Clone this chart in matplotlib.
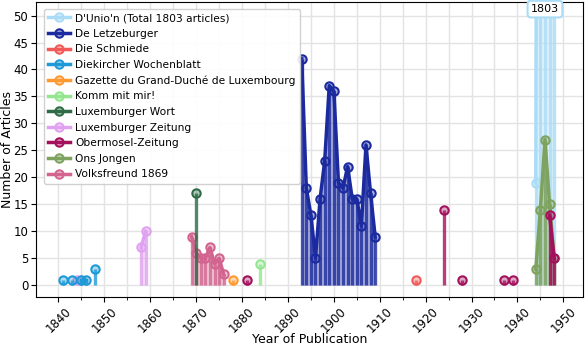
import matplotlib
matplotlib.use("Agg")
import matplotlib.pyplot as plt
from matplotlib.colors import to_rgba
from matplotlib.ticker import MultipleLocator

# ---- data ----
dunion_years = [1944, 1945, 1946, 1947, 1948]
dunion_counts = [19, 420, 820, 480, 64]

letz_years = list(range(1893, 1910))
letz_counts = [42, 18, 13, 5, 16, 23, 37, 36, 19, 18, 22, 16, 16, 11, 26, 17, 9]

schmiede_years = [1918]
schmiede_counts = [1]

diekirch_years = [1841, 1843, 1845, 1846, 1848]
diekirch_counts = [1, 1, 1, 1, 3]

gazette_years = [1878]
gazette_counts = [1]

komm_years = [1884]
komm_counts = [4]

wort_years = [1870]
wort_counts = [17]

lz_years = [1844, 1845, 1858, 1859]
lz_counts = [1, 1, 7, 10]

obermosel_years = [1881, 1924, 1928, 1937, 1939, 1947, 1948]
obermosel_counts = [1, 14, 1, 1, 1, 13, 5]

ons_years = [1944, 1945, 1946, 1947, 1948]
ons_counts = [3, 14, 27, 15, 5]

volks_years = [1869, 1870, 1871, 1872, 1873, 1874, 1875, 1876]
volks_counts = [9, 6, 5, 5, 7, 4, 5, 2]

names = ["D'Unio'n", "De Letzeburger", "Die Schmiede", "Diekircher Wochenblatt",
         "Gazette du Grand-Duché de Luxembourg", "Komm mit mir!", "Luxemburger Wort",
         "Luxemburger Zeitung", "Obermosel-Zeitung", "Ons Jongen", "Volksfreund 1869"]
series = [(dunion_years, dunion_counts), (letz_years, letz_counts),
          (schmiede_years, schmiede_counts), (diekirch_years, diekirch_counts),
          (gazette_years, gazette_counts), (komm_years, komm_counts),
          (wort_years, wort_counts), (lz_years, lz_counts),
          (obermosel_years, obermosel_counts), (ons_years, ons_counts),
          (volks_years, volks_counts)]
colors = ["#aadcf7", "#1b2a9e", "#f25a5a", "#1f9ad6", "#ff9a33", "#93e68f",
          "#2f6b47", "#e0a2f0", "#a3105c", "#7ea35f", "#d2648f"]

fig = plt.figure(figsize=(5.86, 3.48), dpi=100)
ax = fig.add_axes([0.0614, 0.1466, 0.9336, 0.8474])

totals = [sum(c) for _, c in series]
order = sorted(range(len(series)), key=lambda i: -totals[i])
zmap = {i: 3 + k for k, i in enumerate(order)}

handles = {}
for i, (name, (yrs, cnts), col) in enumerate(zip(names, series, colors)):
    z = zmap[i]
    ax.vlines(yrs, 0, cnts, colors=col, linewidth=2.4, alpha=0.8, zorder=z)
    # break lines where years are not consecutive
    segs = [[0]]
    for j in range(1, len(yrs)):
        if yrs[j] - yrs[j - 1] == 1:
            segs[-1].append(j)
        else:
            segs.append([j])
    line = None
    for s in segs:
        xs = [yrs[j] for j in s]
        ys = [cnts[j] for j in s]
        if len(s) > 1:
            ax.fill_between(xs, 0, ys, color=col, alpha=0.35, linewidth=0, zorder=z)
        line, = ax.plot(xs, ys, '-o', color=col, linewidth=2.5, markersize=6,
                        markerfacecolor=to_rgba(col, 0.35), markeredgecolor=col,
                        markeredgewidth=1.5, zorder=z + 0.5)
    handles[name] = line

label_map = {"D'Unio'n": "D'Unio'n (Total 1803 articles)"}
ax.legend([handles[n] for n in names], [label_map.get(n, n) for n in names],
          loc='upper left', fontsize=7.7, framealpha=0.9, borderpad=0.4,
          labelspacing=0.52, handlelength=2.0, handletextpad=0.5,
          bbox_to_anchor=(0.005, 0.995))

ax.set_xlim(1835.1, 1954.3)
ax.set_ylim(-2.2, 52.5)
ax.xaxis.set_major_locator(MultipleLocator(10))
ax.xaxis.set_minor_locator(MultipleLocator(5))
ax.yaxis.set_major_locator(MultipleLocator(5))
ax.tick_params(axis='both', which='major', labelsize=8.5, length=3.5, pad=2)
ax.tick_params(axis='x', which='minor', length=2.5)
ax.grid(True, which='both', color='#e3e3e3', linewidth=1.0, zorder=0)
ax.set_axisbelow(True)
plt.setp(ax.get_xticklabels(), rotation=45, ha='center', rotation_mode='default')
ax.set_xlabel("Year of Publication", fontsize=9)
ax.set_ylabel("Number of Articles", fontsize=9)
ax.yaxis.set_label_coords(-0.040, 0.5)
ax.xaxis.set_label_coords(0.5, -0.122)

ax.annotate("1803", xy=(1946, 51.2), ha='center', va='center', fontsize=8,
            bbox=dict(boxstyle='round,pad=0.3', fc='white', ec='#aadcf7', lw=1.5),
            zorder=30, annotation_clip=False)

fig.savefig("out.png", dpi=100)
